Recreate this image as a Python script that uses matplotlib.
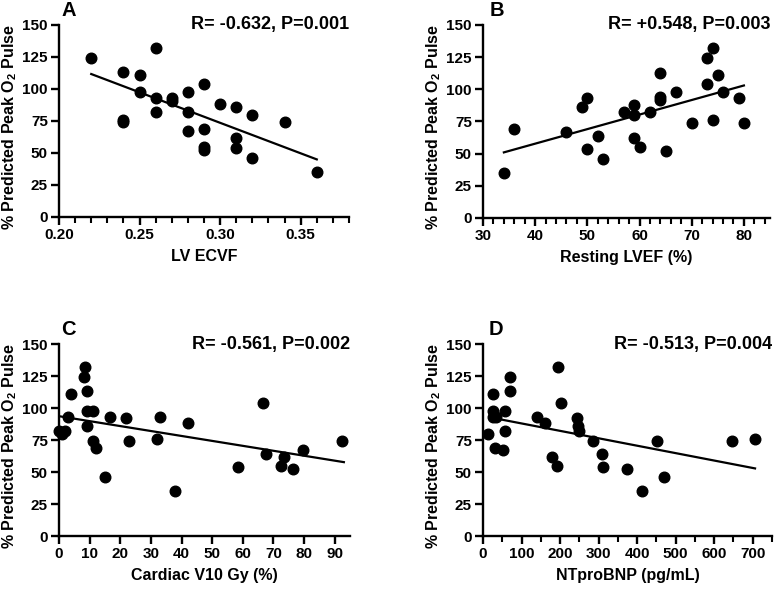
import numpy as np
import matplotlib
matplotlib.use("Agg")
import matplotlib.pyplot as plt
from matplotlib.ticker import MultipleLocator

plt.rcParams['font.family'] = ['Liberation Sans', 'DejaVu Sans']
plt.rcParams['font.weight'] = 'bold'
plt.rcParams['mathtext.fontset'] = 'custom'
plt.rcParams['mathtext.rm'] = 'Liberation Sans:bold'
plt.rcParams['mathtext.bf'] = 'Liberation Sans:bold'
plt.rcParams['mathtext.default'] = 'bf'

# panel A: LV ECVF
ecvf = [0.22, 0.24, 0.24, 0.24, 0.25, 0.25, 0.26, 0.26, 0.26, 0.27, 0.27, 0.28, 0.28,
        0.28, 0.29, 0.29, 0.29, 0.29, 0.30, 0.31, 0.31, 0.31, 0.32, 0.32, 0.34, 0.36]
ecvf_o2 = [124, 113, 76, 74, 111, 98, 132, 93, 82, 93, 91, 98, 82,
           67, 104, 69, 55, 52, 88, 86, 62, 54, 80, 46, 74, 35]
ecvf_fit_x = [0.22, 0.36]
ecvf_fit_y = [111.7, 45.0]

# panel B: resting LVEF
lvef = [34, 36, 46, 49, 50, 50, 52, 53, 57, 59, 59, 59, 60, 62, 64, 64, 64,
        67, 65, 70, 73, 73, 74, 74, 75, 76, 79, 80]
lvef_o2 = [35, 69, 67, 86, 93, 54, 64, 46, 82, 88, 80, 62, 55, 82, 113, 94, 92,
           98, 52, 74, 124, 104, 132, 76, 111, 98, 93, 74]
lvef_fit_x = [34, 80]
lvef_fit_y = [51.0, 103.0]

# panel C: cardiac V10
v10 = [0, 1, 2, 3, 4, 8, 8.4, 9, 9, 9, 11, 11, 12, 15, 16.6, 22, 23, 32, 33, 38,
       42, 58.5, 66.5, 67.5, 72.5, 73.5, 76.5, 79.5, 92.5]
v10_o2 = [82, 80, 82, 93, 111, 124, 132, 113, 98, 86, 98, 74, 69, 46, 93, 92, 74, 76, 93, 35,
          88, 54, 104, 64, 55, 62, 52, 67, 74]
v10_fit_x = [0, 93]
v10_fit_y = [93.6, 57.7]

# panel D: NTproBNP
bnp = [13, 27, 25, 25, 31, 34, 58, 58, 53, 71, 71, 140, 160, 179, 192, 195, 202,
       244, 246, 249, 285, 308, 312, 373, 413, 452, 471, 647, 706]
bnp_o2 = [80, 111, 98, 93, 69, 93, 98, 82, 67, 124, 113, 93, 88, 62, 55, 132, 104,
          92, 86, 82, 74, 64, 54, 52, 35, 74, 46, 74, 76]
bnp_fit_x = [30, 706]
bnp_fit_y = [92.0, 52.8]

panels = [
    ('A', ecvf, ecvf_o2, ecvf_fit_x, ecvf_fit_y, 'LV ECVF', 'R= -0.632, P=0.001',
     (0.20, 0.38), [0.20, 0.25, 0.30, 0.35], 0.01, '{:.2f}'),
    ('B', lvef, lvef_o2, lvef_fit_x, lvef_fit_y, 'Resting LVEF (%)', 'R= +0.548, P=0.003',
     (30, 85), [30, 40, 50, 60, 70, 80], 2, '{:d}'),
    ('C', v10, v10_o2, v10_fit_x, v10_fit_y, 'Cardiac V10 Gy (%)', 'R= -0.561, P=0.002',
     (0, 95), list(range(0, 91, 10)), None, '{:d}'),
    ('D', bnp, bnp_o2, bnp_fit_x, bnp_fit_y, 'NTproBNP (pg/mL)', 'R= -0.513, P=0.004',
     (0, 750), list(range(0, 701, 100)), 50, '{:d}'),
]

# axes boxes in pixels: left, top, right, bottom, letter offset
boxes = [(59, 25, 349, 217, 2), (483, 25, 770, 218, 7), (59, 344, 350, 536, 2), (483, 344, 772, 536, 6)]
W, H = 777, 589

fig = plt.figure(figsize=(W / 100, H / 100), dpi=100)

for (letter, x, y, fx, fy, xlabel, rtext, xlim, xticks, minor, fmt), (l, t, r, b, lo) in zip(panels, boxes):
    ax = fig.add_axes([l / W, 1 - b / H, (r - l) / W, (b - t) / H])
    ax.scatter(x, y, s=58, color='black', zorder=3, clip_on=False)
    ax.plot(fx, fy, color='black', lw=1.6)
    ax.set_xlim(*xlim)
    ax.set_ylim(0, 150)
    ax.set_xticks(xticks)
    ax.set_xticklabels([fmt.format(v) for v in xticks])
    if minor:
        ax.xaxis.set_minor_locator(MultipleLocator(minor))
    ax.set_yticks([0, 25, 50, 75, 100, 125, 150])
    for s in ['top', 'right']:
        ax.spines[s].set_visible(False)
    for s in ['left', 'bottom']:
        ax.spines[s].set_linewidth(1.7)
    ax.tick_params(which='major', length=6, width=1.7, labelsize=11, pad=2)
    ax.tick_params(which='minor', length=4, width=1.5)
    for lab in ax.get_xticklabels() + ax.get_yticklabels():
        lab.set_fontweight('bold')
    ax.set_xlabel(xlabel, fontsize=11.5, fontweight='bold', labelpad=5)
    ax.set_ylabel(r'% Predicted Peak O$_2$ Pulse', fontsize=11.5, fontweight='bold')
    ax.yaxis.set_label_coords(-40 / (r - l), 0.47)
    ax.text(1.0, 1.0, rtext, transform=ax.transAxes, ha='right', va='center',
            fontsize=13, fontweight='bold')
    ax.text(lo / (r - l), 1 + 9 / (b - t), letter, transform=ax.transAxes, ha='left',
            va='baseline', fontsize=14.5, fontweight='bold')

fig.savefig('out.png', dpi=100)
